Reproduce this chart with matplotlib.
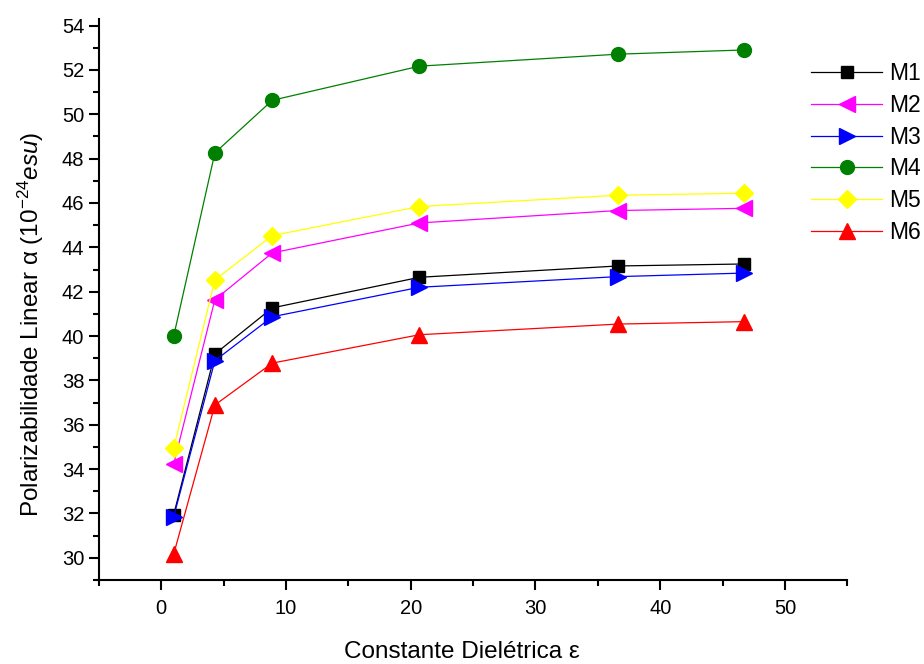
import matplotlib
matplotlib.use("Agg")
import matplotlib.pyplot as plt
from matplotlib.ticker import MultipleLocator

plt.rcParams['font.family'] = ['Liberation Sans', 'DejaVu Sans']
plt.rcParams['mathtext.fontset'] = 'custom'
plt.rcParams['mathtext.rm'] = 'Liberation Sans'
plt.rcParams['mathtext.it'] = 'Liberation Sans:italic'

# dielectric constants of the solvents
eps = [1.0, 4.3, 8.9, 20.7, 36.6, 46.7]

# polarizability for each molecule
M1 = [31.95, 39.19, 41.27, 42.65, 43.16, 43.25]
M2 = [34.23, 41.64, 43.75, 45.10, 45.66, 45.76]
M3 = [31.85, 38.89, 40.87, 42.20, 42.68, 42.84]
M4 = [40.0, 48.26, 50.63, 52.17, 52.71, 52.90]
M5 = [34.95, 42.53, 44.53, 45.84, 46.35, 46.44]
M6 = [30.17, 36.89, 38.78, 40.06, 40.54, 40.65]

names = ['M1', 'M2', 'M3', 'M4', 'M5', 'M6']
series = [M1, M2, M3, M4, M5, M6]
colors = ['black', '#FF00FF', '#0000FF', '#008000', '#FFFF00', '#FF0000']
markers = ['s', '<', '>', 'o', 'D', '^']
sizes = [9, 11, 11, 10, 9, 11]

fig = plt.figure(figsize=(9.24, 6.64), dpi=100)
ax = fig.add_axes([0.107, 0.1265, 0.81, 0.845])

for name, y, c, m, s in zip(names, series, colors, markers, sizes):
    ax.plot(eps, y, color=c, marker=m, markersize=s, markeredgecolor=c,
            markerfacecolor=c, linewidth=0.9, label=name)

ax.set_xlim(-5, 55)
ax.set_ylim(29, 54.3)
ax.xaxis.set_major_locator(MultipleLocator(10))
ax.xaxis.set_minor_locator(MultipleLocator(5))
ax.yaxis.set_major_locator(MultipleLocator(2))
ax.yaxis.set_minor_locator(MultipleLocator(1))

ax.spines['top'].set_visible(False)
ax.spines['right'].set_visible(False)
ax.spines['left'].set_linewidth(1.5)
ax.spines['bottom'].set_linewidth(1.5)
ax.tick_params(which='major', direction='out', length=7, width=1.5, labelsize=14.5)
ax.tick_params(axis='x', which='major', pad=7)
ax.tick_params(which='minor', direction='out', length=4, width=1.5)

ax.set_xlabel('Constante Dielétrica ε', fontsize=17.5, labelpad=16)
ax.xaxis.label.set_x(0.485)
ax.set_ylabel(r'Polarizabilidade Linear α (10$^{-24}$$\it{esu}$)', fontsize=17.5)
ax.yaxis.set_label_coords(-0.071, 0.455)

fig.legend(loc='upper left', bbox_to_anchor=(0.868, 0.92), frameon=False,
           fontsize=16.5, handlelength=3.1, labelspacing=0.38, handletextpad=0.3,
           borderaxespad=0)

fig.savefig('out.png', dpi=100)
